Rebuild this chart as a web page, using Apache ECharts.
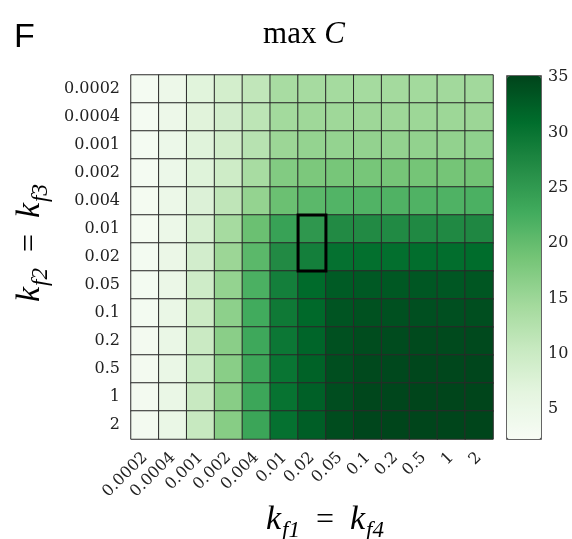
<!DOCTYPE html>
<html><head><meta charset="utf-8">
<script src="https://cdn.jsdelivr.net/npm/echarts@6/dist/echarts.min.js"></script>
<style>html,body{margin:0;padding:0;background:#fff}#c{width:572px;height:539px}</style>
</head><body><div id="c"></div>
<script>
// Categories (same for both axes)
var kfLabels = ['0.0002','0.0004','0.001','0.002','0.004','0.01','0.02','0.05','0.1','0.2','0.5','1','2'];
// max C values, one array per row (k_f2 = k_f3), columns are k_f1 = k_f4
var row_0_0002 = [2.9, 4.6, 6.9, 8.9, 11.2, 13.8, 14.1, 14.2, 14.2, 14.3, 14.4, 14.5, 14.5];
var row_0_0004 = [2.9, 4.6, 7.0, 9.0, 11.6, 14.4, 14.8, 14.8, 14.9, 14.9, 15.0, 15.0, 15.1];
var row_0_001  = [2.9, 4.7, 7.1, 9.2, 12.2, 15.1, 15.8, 15.8, 15.9, 15.9, 16.0, 16.0, 16.2];
var row_0_002  = [2.9, 4.7, 7.2, 9.6, 13.8, 17.4, 18.0, 18.4, 18.4, 18.5, 18.6, 18.6, 18.9];
var row_0_004  = [3.0, 4.8, 7.6, 11.4, 15.8, 19.4, 20.7, 21.4, 21.5, 21.6, 21.6, 21.7, 22.0];
var row_0_01   = [3.0, 4.9, 8.4, 14.1, 19.4, 24.0, 25.3, 27.0, 27.0, 27.1, 27.2, 27.2, 27.4];
var row_0_02   = [3.1, 5.0, 9.0, 15.1, 20.7, 27.0, 28.6, 30.4, 30.6, 30.7, 30.8, 30.8, 31.0];
var row_0_05   = [3.1, 5.1, 9.5, 15.8, 22.0, 28.6, 31.2, 32.8, 33.0, 33.1, 33.2, 33.2, 33.3];
var row_0_1    = [3.1, 5.2, 9.8, 16.4, 22.8, 29.3, 31.4, 33.5, 33.8, 33.9, 34.0, 34.0, 34.1];
var row_0_2    = [3.2, 5.2, 10.1, 16.7, 23.2, 29.6, 31.8, 33.9, 34.3, 34.4, 34.5, 34.5, 34.6];
var row_0_5    = [3.2, 5.3, 10.3, 16.8, 23.4, 29.9, 32.1, 34.1, 34.6, 34.7, 34.8, 34.8, 34.9];
var row_1      = [3.2, 5.3, 10.4, 16.9, 23.5, 30.2, 32.3, 34.2, 34.8, 34.9, 35.0, 35.0, 35.0];
var row_2      = [3.2, 5.3, 10.5, 17.0, 23.6, 30.4, 32.5, 34.3, 34.9, 35.0, 35.0, 35.0, 35.0];
var rows = [row_0_0002, row_0_0004, row_0_001, row_0_002, row_0_004, row_0_01, row_0_02,
            row_0_05, row_0_1, row_0_2, row_0_5, row_1, row_2];
// Colour bar range and ticks
var cMin = 2.3, cMax = 35.1;
var cbTicks = [5, 10, 15, 20, 25, 30, 35];
// Highlighted cell block
var boxCol = '0.02';
var boxRows = ['0.01', '0.02'];

var greens = ['#f7fcf5','#e5f5e0','#c7e9c0','#a1d99b','#74c476','#41ab5d','#238b45','#006d2c','#00441b'];

var data = [];
rows.forEach(function (r, yi) { r.forEach(function (v, xi) { data.push([xi, yi, v]); }); });
var boxData = [[kfLabels.indexOf(boxCol), kfLabels.indexOf(boxRows[0]), kfLabels.indexOf(boxRows[1])]];

var tickFont = 'DejaVu Serif';
var titleRich = {
  k: {font: 'italic 34px "Liberation Serif"', lineHeight: 34, verticalAlign: 'bottom', padding: [0, 0, 5, 0]},
  s: {font: 'italic 23px "Liberation Serif"', lineHeight: 23, verticalAlign: 'bottom', padding: [0, 0, 0, 1]},
  e: {font: '32px "Liberation Serif"', lineHeight: 34, verticalAlign: 'bottom', padding: [0, 0, 5, 0]}
};
var chart = echarts.init(document.getElementById('c'));
chart.setOption({
  animation: false,
  backgroundColor: '#fff',
  grid: [
    {left: 131, top: 75, width: 362, height: 364, show: false},
    {left: 507, top: 76, width: 34, height: 363, show: true, borderColor: '#333', borderWidth: 1.5, backgroundColor: 'transparent'}
  ],
  xAxis: [
    {type: 'category', data: kfLabels, gridIndex: 0, position: 'bottom',
     axisLine: {show: false}, axisTick: {show: false}, splitLine: {show: false},
     axisLabel: {rotate: 45, interval: 0, margin: 16, fontFamily: tickFont, fontSize: 16, color: '#222'}},
    {type: 'value', gridIndex: 1, show: false, min: 0, max: 1}
  ],
  yAxis: [
    {type: 'category', data: kfLabels, gridIndex: 0, inverse: true,
     axisLine: {show: false}, axisTick: {show: false}, splitLine: {show: false},
     axisLabel: {interval: 0, margin: 11, fontFamily: tickFont, fontSize: 16, color: '#222'}},
    {type: 'value', gridIndex: 1, position: 'right', min: cMin, max: cMax,
     axisLine: {show: false}, splitLine: {show: false},
     axisTick: {show: true, length: 5, customValues: cbTicks, lineStyle: {color: '#333'}},
     axisLabel: {customValues: cbTicks, margin: 7, fontFamily: tickFont, fontSize: 16, color: '#222'}}
  ],
  visualMap: {
    type: 'continuous', seriesIndex: 0, min: cMin, max: cMax, calculable: false,
    orient: 'vertical', left: 507, top: 76, itemWidth: 34, itemHeight: 363,
    padding: 0, text: null, showLabel: false, hoverLink: false,
    inRange: {color: greens}
  },
  series: [
    {type: 'heatmap', xAxisIndex: 0, yAxisIndex: 0, data: data,
     itemStyle: {borderColor: '#2a2a2a', borderWidth: 1}, emphasis: {disabled: true}},
    {type: 'custom', xAxisIndex: 0, yAxisIndex: 0, data: boxData, z: 10, silent: true,
     renderItem: function (params, api) {
       var p1 = api.coord([api.value(0), api.value(1)]);
       var p2 = api.coord([api.value(0), api.value(2)]);
       var s = api.size([1, 1]);
       var y0 = Math.min(p1[1], p2[1]) - s[1] / 2;
       return {type: 'rect',
         shape: {x: p1[0] - s[0] / 2, y: y0, width: s[0], height: Math.abs(p2[1] - p1[1]) + s[1]},
         style: {fill: null, stroke: '#000', lineWidth: 3}};
     }}
  ],
  graphic: [
    {type: 'text', left: 14, top: 21, style: {text: 'F', font: '34px "Liberation Sans"', fill: '#000'}},
    {type: 'text', x: 304, y: 35, style: {text: 'max {i|C}', align: 'center', verticalAlign: 'middle',
      font: '31px "Liberation Serif"', fill: '#000',
      rich: {i: {font: 'italic 31px "Liberation Serif"'}}}},
    {type: 'text', x: 325, y: 525, style: {
      text: '{k|k}{s|f1}{e|  =  }{k|k}{s|f4}', align: 'center', verticalAlign: 'middle', fill: '#000',
      rich: titleRich}},
    {type: 'text', x: 35, y: 243, rotation: Math.PI / 2, style: {
      text: '{k|k}{s|f2}{e|  =  }{k|k}{s|f3}', align: 'center', verticalAlign: 'middle', fill: '#000',
      rich: titleRich}}
  ]
});
</script></body></html>
